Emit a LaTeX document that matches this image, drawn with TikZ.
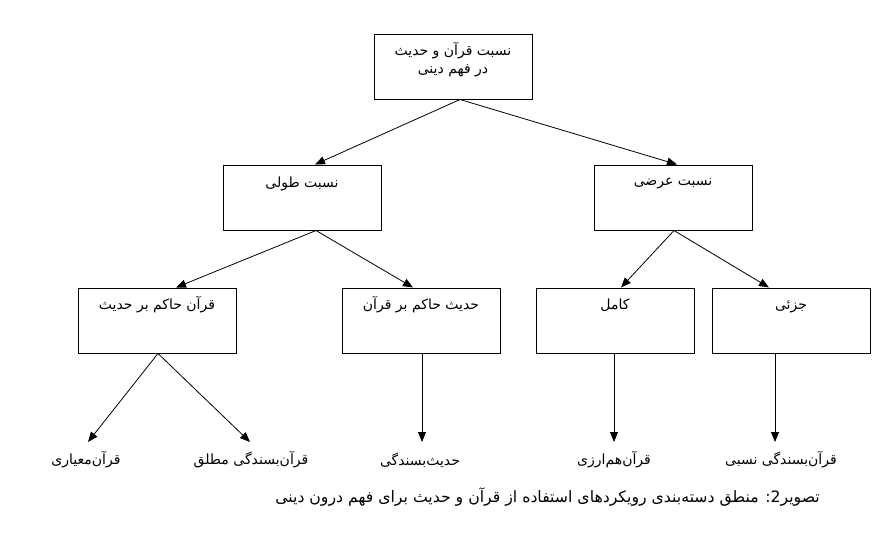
\documentclass[tikz,border=0pt]{standalone}
\usepackage{fontspec}
\setmainfont{DejaVu Sans}
\newfontfamily\arabicfont[Script=Arabic]{DejaVu Sans}
\TeXXeTstate=1
\usetikzlibrary{arrows.meta}
\newcommand{\rtl}[1]{\beginR #1\endR}
\begin{document}
\begin{tikzpicture}[x=1pt,y=-1pt,
  box/.style={draw, line width=1pt, minimum width=158pt, minimum height=65pt, inner sep=0pt},
  txt/.style={font=\arabicfont\fontsize{14}{18}\selectfont, inner sep=1pt, align=center},
  conn/.style={line width=0.8pt, -{Triangle[length=10pt,width=8pt]}}]
\useasboundingbox (0,0) rectangle (895,539);
% boxes
\node[box] (top) at (453,66.5) {};
\node[box] (tul) at (302,197.5) {};
\node[box] (arz) at (673,197.5) {};
\node[box] (qh) at (157,320.5) {};
\node[box] (hh) at (421,320.5) {};
\node[box] (kam) at (615,320.5) {};
\node[box] (joz) at (791,320.5) {};
% box texts
\node[txt] (ttop) at (453,60) {\rtl{نسبت قرآن و حدیث}\\ \rtl{در فهم دینی}};
\node[txt] (ttul) at (302,184) {\rtl{نسبت طولی}};
\node[txt] (tarz) at (673,184) {\rtl{نسبت عرضی}};
\node[txt] (tqh) at (157,305) {\rtl{قرآن حاکم بر حدیث}};
\node[txt] (thh) at (421,305) {\rtl{حدیث حاکم بر قرآن}};
\node[txt] (tkam) at (615,305) {\rtl{کامل}};
\node[txt] (tjoz) at (791,307) {\rtl{جزئی}};
% leaves
\node[txt] (l1) at (86,460) {\rtl{قرآن^^^^200cمعیاری}};
\node[txt] (l2) at (251,460) {\rtl{قرآن^^^^200cبسندگی مطلق}};
\node[txt] (l3) at (420,460) {\rtl{حدیث^^^^200cبسندگی}};
\node[txt] (l4) at (614,460) {\rtl{قرآن^^^^200cهم^^^^200cارزی}};
\node[txt] (l5) at (781,460) {\rtl{قرآن^^^^200cبسندگی نسبی}};
\coordinate (e1) at (88,442);
\coordinate (e2) at (250,442);
\coordinate (e3) at (422,442);
\coordinate (e4) at (614,442);
\coordinate (e5) at (775,442);
% caption
\node[txt, font=\arabicfont\fontsize{15.7}{18}\selectfont, anchor=east] (cap) at (821,497) {\rtl{تصویر2: منطق دسته^^^^200cبندی رویکردهای استفاده از قرآن و حدیث برای فهم درون دینی}};
% connectors
\draw[conn] ([xshift=7pt]top.south) -- ([xshift=13pt]tul.north);
\draw[conn] ([xshift=7pt]top.south) -- ([xshift=4pt]arz.north);
\draw[conn] ([xshift=14pt]tul.south) -- ([xshift=19pt]qh.north);
\draw[conn] ([xshift=14pt]tul.south) -- ([xshift=-8pt]hh.north);
\draw[conn] ([xshift=1pt]arz.south) -- ([xshift=6pt]kam.north);
\draw[conn] ([xshift=1pt]arz.south) -- ([xshift=-22pt]joz.north);
\draw[conn] ([xshift=1pt]qh.south) -- (e1);
\draw[conn] ([xshift=1pt]qh.south) -- (e2);
\draw[conn] (hh.south -| e3) -- (e3);
\draw[conn] (kam.south -| e4) -- (e4);
\draw[conn] (joz.south -| e5) -- (e5);
\end{tikzpicture}
\end{document}
